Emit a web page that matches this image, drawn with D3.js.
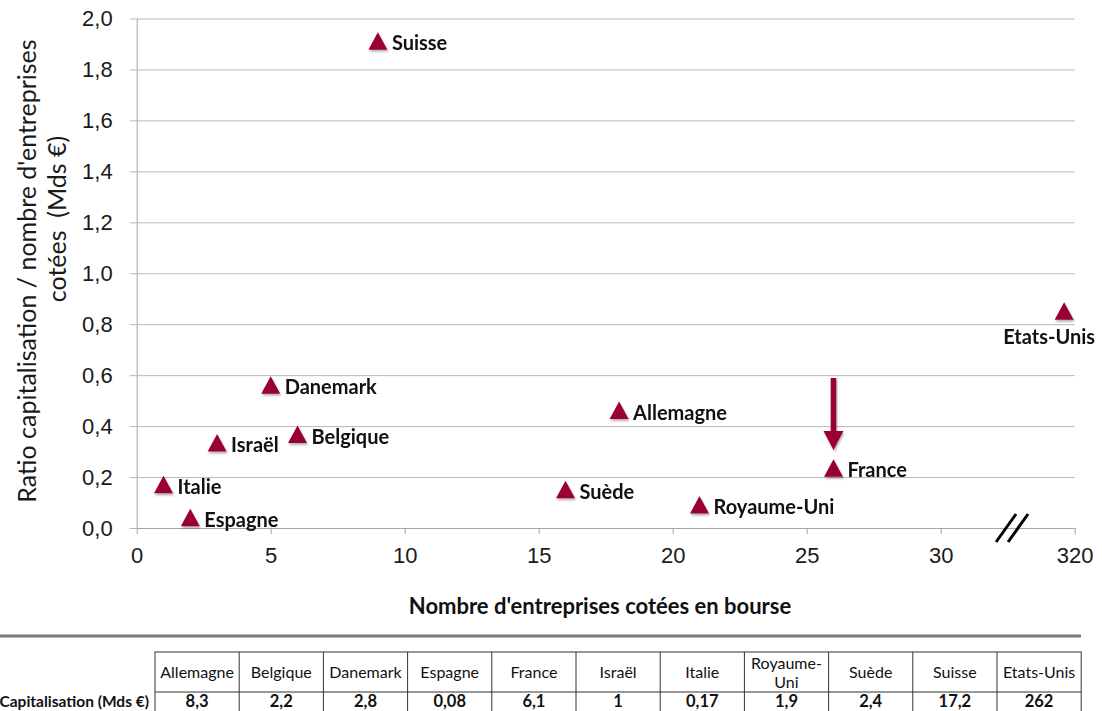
<!DOCTYPE html>
<html lang="fr">
<head>
<meta charset="utf-8">
<script src="https://cdn.jsdelivr.net/npm/d3@7"></script>
<style>
  html, body { margin: 0; padding: 0; background: #ffffff; }
  svg { display: block; font-family: Lato, "Open Sans", sans-serif; }
</style>
</head>
<body>
<svg id="chart" width="1102" height="711"></svg>
<script>
// Pays, dans l'ordre du tableau
const countries = ["Allemagne", "Belgique", "Danemark", "Espagne", "France", "Israël",
                   "Italie", "Royaume-Uni", "Suède", "Suisse", "Etats-Unis"];
// Nombre d'entreprises cotées en bourse
const companies = [18, 6, 5, 2, 26, 3, 1, 21, 16, 9, 308];
// Capitalisation (Mds €)
const capitalisation = [8.3, 2.2, 2.8, 0.08, 6.1, 1, 0.17, 1.9, 2.4, 17.2, 262];
// Libellés affichés dans le tableau
const capLabels = ["8,3", "2,2", "2,8", "0,08", "6,1", "1", "0,17", "1,9", "2,4", "17,2", "262"];
const headerLabels = [["Allemagne"], ["Belgique"], ["Danemark"], ["Espagne"], ["France"], ["Israël"],
                      ["Italie"], ["Royaume-", "Uni"], ["Suède"], ["Suisse"], ["Etats-Unis"]];
// Graduations
const xTicks = [0, 5, 10, 15, 20, 25, 30, 320];
const yTicks = [0, 0.2, 0.4, 0.6, 0.8, 1.0, 1.2, 1.4, 1.6, 1.8, 2.0];

const points = countries.map((c, i) => ({
  name: c,
  n: companies[i],
  ratio: capitalisation[i] / companies[i]
}));

const svg = d3.select("#chart");
const crimson = "#9a0036";

// Axe horizontal coupé : 0–30 linéaire, puis rupture jusqu'à 320
const unit = 26.8;
const x0 = 136.7;
const x = d3.scaleLinear()
  .domain([0, 30, 250, 320])
  .range([x0, x0 + 30 * unit, x0 + 32.7 * unit, x0 + 35 * unit]);
const y = d3.scaleLinear().domain([0, 2]).range([528, 18.5]);

const fmt = v => d3.format(".1f")(v).replace(".", ",");

// Ombre portée des marqueurs
const defs = svg.append("defs");
const sh = defs.append("filter").attr("id", "shadow")
  .attr("x", "-10%").attr("y", "-10%").attr("width", "120%").attr("height", "120%");
sh.append("feDropShadow").attr("dx", 1).attr("dy", 2).attr("stdDeviation", 1.2)
  .attr("flood-color", "#000").attr("flood-opacity", 0.3);

// Grille horizontale + axe Y
const yAxis = d3.axisLeft(y).tickValues(yTicks).tickFormat(fmt)
  .tickSize(-(x(320) - x0)).tickSizeOuter(0).tickPadding(24);
const gy = svg.append("g").attr("transform", `translate(${x0},0)`).call(yAxis);
gy.select(".domain").attr("stroke", "#a6a6a6");
gy.selectAll(".tick line").attr("stroke", "#b8b8b8").attr("x1", -7);
gy.selectAll(".tick text").attr("font-size", 22).attr("fill", "#1a1a1a");

// Axe X
const xAxis = d3.axisBottom(x).tickValues(xTicks).tickFormat(d3.format("d"))
  .tickSize(6).tickSizeOuter(0).tickPadding(13);
const gx = svg.append("g").attr("transform", `translate(0,${y(0)})`).call(xAxis);
gx.select(".domain").attr("stroke", "#a6a6a6");
gx.selectAll(".tick line").attr("stroke", "#a6a6a6");
gx.selectAll(".tick text").attr("font-size", 22).attr("fill", "#1a1a1a");

// Marque de rupture
const bx = x(250) - 1;
const by = y(0);
[-6, 6].forEach(off => {
  svg.append("line")
    .attr("x1", bx + off - 10).attr("y1", by + 14)
    .attr("x2", bx + off + 10).attr("y2", by - 14)
    .attr("stroke", "#000").attr("stroke-width", 3);
});

// Marqueurs triangulaires (boîte de 19 × 18 centrée sur le point)
const triPath = "M0,-9L9.5,8.5L-9.5,8.5Z";
svg.append("g").attr("filter", "url(#shadow)")
  .selectAll("path").data(points).join("path")
  .attr("d", triPath)
  .attr("transform", d => `translate(${x(d.n)},${y(d.ratio)})`)
  .attr("fill", crimson);

// Étiquettes
svg.append("g").selectAll("text").data(points).join("text")
  .attr("x", d => d.name === "Etats-Unis" ? x(d.n) - 15 : x(d.n) + 14)
  .attr("y", d => d.name === "Etats-Unis" ? y(d.ratio) + 33 : y(d.ratio) + 9)
  .attr("text-anchor", d => d.name === "Etats-Unis" ? "middle" : "start")
  .attr("font-size", 20).attr("font-weight", "bold").attr("fill", "#111")
  .text(d => d.name);

// Flèche vers la France
const fr = points.find(d => d.name === "France");
const ax = x(fr.n);
svg.append("g").attr("filter", "url(#shadow)").append("path")
  .attr("d", `M${ax - 2.8},378 L${ax + 2.8},378 L${ax + 2.8},431 L${ax + 10},431 L${ax},450 L${ax - 10},431 L${ax - 2.8},431 Z`)
  .attr("fill", crimson);

// Titres des axes
svg.append("text")
  .attr("x", 600).attr("y", 614).attr("text-anchor", "middle")
  .attr("font-size", 22).attr("font-weight", "bold").attr("fill", "#111")
  .text("Nombre d'entreprises cotées en bourse");

const yt = svg.append("text")
  .attr("transform", "translate(36,271) rotate(-90)")
  .attr("text-anchor", "middle").attr("font-size", 25).attr("fill", "#1a1a1a");
yt.append("tspan").attr("x", 0).attr("y", 0).text("Ratio capitalisation / nombre d'entreprises");
yt.append("tspan").attr("x", 52).attr("y", 30).text("cotées\u00a0 (Mds €)");

// Tableau des capitalisations
svg.append("line").attr("x1", 0).attr("x2", 1081).attr("y1", 636).attr("y2", 636)
  .attr("stroke", "#7a7a7a").attr("stroke-width", 3);

const tLeft = 155, colW = 84.2, rowTop = 652, rowMid = 692, rowBot = 716;
const colX = d3.scaleLinear().domain([0, countries.length]).range([tLeft, tLeft + colW * countries.length]);
const tg = svg.append("g");
tg.append("rect").attr("x", tLeft).attr("y", rowTop)
  .attr("width", colX(countries.length) - tLeft).attr("height", rowBot - rowTop)
  .attr("fill", "none").attr("stroke", "#333").attr("stroke-width", 1);
tg.append("line").attr("x1", tLeft).attr("x2", colX(countries.length))
  .attr("y1", rowMid).attr("y2", rowMid).attr("stroke", "#333");
tg.selectAll("line.col").data(d3.range(1, countries.length)).join("line")
  .attr("class", "col")
  .attr("x1", i => colX(i)).attr("x2", i => colX(i))
  .attr("y1", rowTop).attr("y2", rowBot).attr("stroke", "#333");

headerLabels.forEach((lines, i) => {
  const cx = colX(i + 0.5);
  const t = tg.append("text").attr("text-anchor", "middle").attr("font-size", 16).attr("fill", "#111");
  lines.forEach((s, k) => {
    t.append("tspan").attr("x", cx)
      .attr("y", (rowTop + rowMid) / 2 + 6 + (k - (lines.length - 1) / 2) * 19)
      .text(s);
  });
});
tg.selectAll("text.val").data(capLabels).join("text")
  .attr("class", "val")
  .attr("x", (d, i) => colX(i + 0.5)).attr("y", 707)
  .attr("text-anchor", "middle").attr("font-size", 16.5).attr("font-weight", "bold").attr("fill", "#111")
  .text(d => d);
tg.append("text").attr("x", 149).attr("y", 707).attr("text-anchor", "end")
  .attr("font-size", 15.5).attr("font-weight", "bold").attr("fill", "#111")
  .text("Capitalisation (Mds €)");
</script>
</body>
</html>
